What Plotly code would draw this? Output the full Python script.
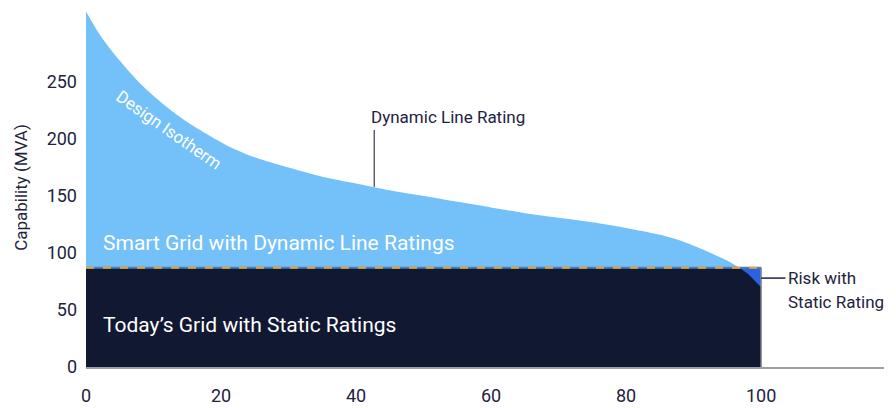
import numpy as np
import plotly.graph_objects as go

# Data
dlr_x = [0, 2, 4, 6, 8, 10, 12, 15, 18, 21, 25, 30, 35, 40, 45, 50, 55, 60, 65, 70, 75, 80, 85, 88, 91, 94, 96, 98, 100]
dlr_y = [312, 292, 276, 262, 249, 238, 228, 215, 204, 194, 184, 175, 167, 161, 155, 150, 145, 140, 135, 131, 127, 122, 116, 111, 104, 96, 90, 82, 70]
static_rating = 87
x_end = 100
x_max = 118.2
y_max = 315
x_ticks = [0, 20, 40, 60, 80, 100]
y_ticks = [0, 50, 100, 150, 200, 250]

LIGHT = "#74C1FA"
NAVY = "#111831"
RISK = "#2A62E2"
ORANGE = "#E9A23B"
TEXT = "#1E2340"
FONT = "Roboto"

dx = np.array(dlr_x, dtype=float)
dy = np.array(dlr_y, dtype=float)

# crossing point of curve with static rating
xc = float(np.interp(static_rating, dy[::-1], dx[::-1]))
mask = dx > xc
risk_x = [xc] + list(dx[mask]) + [x_end, xc]
risk_y = [static_rating] + list(dy[mask]) + [static_rating, static_rating]

fig = go.Figure()
fig.add_trace(go.Scatter(x=dlr_x, y=dlr_y, mode="lines", line=dict(color=LIGHT, width=0, shape="spline", smoothing=0.8),
                         fill="tozeroy", fillcolor=LIGHT, hoverinfo="skip", showlegend=False))
fig.add_trace(go.Scatter(x=[0, x_end, x_end, 0, 0], y=[0, 0, static_rating, static_rating, 0], mode="lines",
                         line=dict(width=0, color=NAVY), fill="toself", fillcolor=NAVY, hoverinfo="skip", showlegend=False))
fig.add_trace(go.Scatter(x=risk_x, y=risk_y, mode="lines", line=dict(width=0, color=RISK),
                         fill="toself", fillcolor=RISK, hoverinfo="skip", showlegend=False))
# right edge of static area
fig.add_trace(go.Scatter(x=[x_end, x_end], y=[0, static_rating], mode="lines",
                         line=dict(color="#8a8d99", width=1.5), hoverinfo="skip", showlegend=False))
# static rating line
fig.add_trace(go.Scatter(x=[0, x_end], y=[static_rating, static_rating], mode="lines",
                         line=dict(color="#4f7fb0", width=2), hoverinfo="skip", showlegend=False))
fig.add_trace(go.Scatter(x=[0, x_end], y=[static_rating, static_rating], mode="lines",
                         line=dict(color=ORANGE, width=2, dash="8px,9px"), hoverinfo="skip", showlegend=False))
# leader lines
dlr_label_x = 42.7
fig.add_trace(go.Scatter(x=[dlr_label_x, dlr_label_x], y=[158, 208], mode="lines",
                         line=dict(color="#5a5f73", width=1.5), hoverinfo="skip", showlegend=False))
fig.add_trace(go.Scatter(x=[x_end, 103.6], y=[78, 78], mode="lines",
                         line=dict(color=TEXT, width=1.5), hoverinfo="skip", showlegend=False))

ann = [
    dict(x=41.9, y=219, text="Dynamic Line Rating", xanchor="left", yanchor="middle",
         font=dict(size=17, color=TEXT)),
    dict(x=12.3, y=208, text="Design Isotherm", textangle=35, xanchor="center", yanchor="middle",
         font=dict(size=17, color="white")),
    dict(x=2.2, y=108.5, text="Smart Grid with Dynamic Line Ratings", xanchor="left", yanchor="middle",
         font=dict(size=21, color="white")),
    dict(x=2.2, y=36.8, text="Today’s Grid with Static Ratings", xanchor="left", yanchor="middle",
         font=dict(size=21, color="white")),
    dict(x=103.7, y=78, text="Risk with", xanchor="left", yanchor="middle",
         font=dict(size=17, color=TEXT)),
    dict(x=103.7, y=57, text="Static Rating", xanchor="left", yanchor="middle",
         font=dict(size=17, color=TEXT)),
]
for a in ann:
    a.update(showarrow=False, xref="x", yref="y")
fig.update_layout(annotations=ann)

fig.update_layout(
    width=896, height=408,
    margin=dict(l=86, r=12, t=8, b=41, autoexpand=False),
    paper_bgcolor="white", plot_bgcolor="white",
    font=dict(family=FONT, color=TEXT, size=18),
    xaxis=dict(range=[0, x_max], tickvals=x_ticks, showgrid=False, zeroline=False, automargin=False,
               showline=True, linecolor="#9a9ca8", linewidth=1.5, ticks="",
               ticklabelstandoff=12, tickfont=dict(size=18, color=TEXT)),
    yaxis=dict(range=[0, y_max], tickvals=y_ticks, showgrid=False, zeroline=False, automargin=False,
               showline=False, ticks="", ticklabelstandoff=8, tickfont=dict(size=18, color=TEXT),
               title=dict(text="Capability (MVA)", font=dict(size=17, color=TEXT), standoff=14)),
)

fig.write_html("out.html", config={"displayModeBar": False},
               post_script="document.body.style.margin='0px';document.body.style.overflow='hidden';")
